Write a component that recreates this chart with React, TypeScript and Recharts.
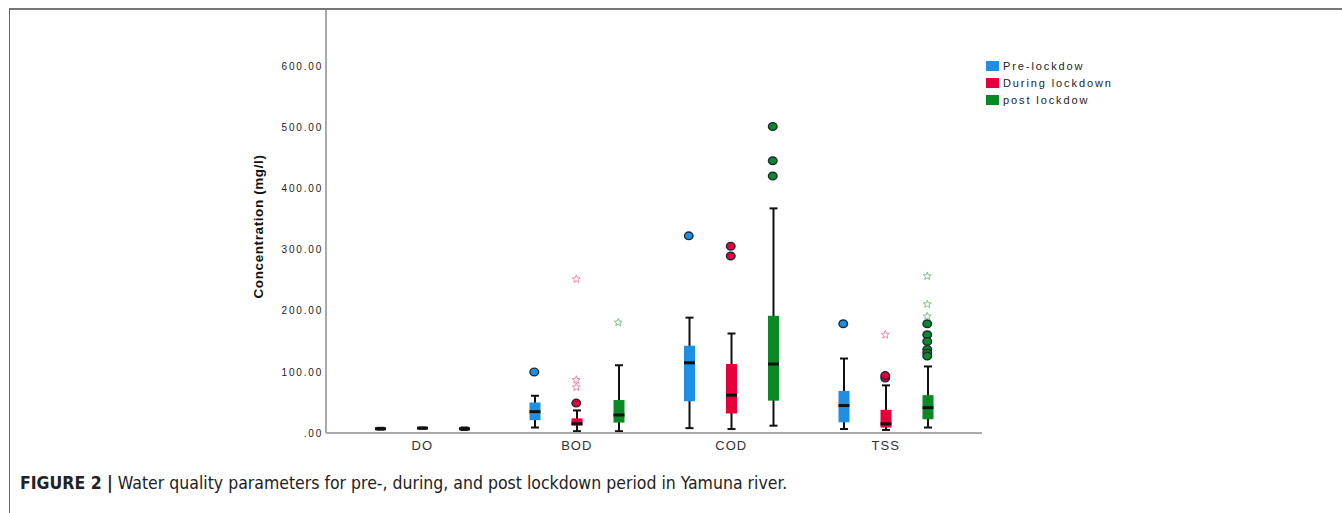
import { Bar, ComposedChart, Scatter, XAxis, YAxis } from 'recharts'

const categories = ['DO', 'BOD', 'COD', 'TSS']

// five-number summaries per category: [min, q1, median, q3, max]
const preLockdown = [
  [5.5, 6.5, 7, 7.5, 8.5],
  [9, 21, 35, 50, 61],
  [8, 52, 115, 143, 189],
  [6.5, 17.5, 45, 69, 122],
]
const duringLockdown = [
  [7, 7.5, 8, 8.5, 9],
  [3, 12.5, 15, 24, 37],
  [6.5, 32, 62, 113, 163],
  [5, 9, 15, 38, 78],
]
const postLockdown = [
  [5, 6, 7, 8, 9],
  [3, 17, 29.5, 54, 111],
  [12, 53, 113, 192, 368],
  [9, 22.5, 41.5, 62, 109],
]

// outliers (circles) and extreme values (stars)
const preOutliers: [string, number][] = [['BOD', 100], ['COD', 323], ['TSS', 179]]
const preExtremes: [string, number][] = []
const duringOutliers: [string, number][] = [['BOD', 49], ['COD', 306], ['COD', 290], ['TSS', 90], ['TSS', 94]]
const duringExtremes: [string, number][] = [['BOD', 252], ['BOD', 87], ['BOD', 75], ['TSS', 161]]
const postOutliers: [string, number][] = [
  ['COD', 502], ['COD', 446], ['COD', 421],
  ['TSS', 179], ['TSS', 161], ['TSS', 150], ['TSS', 137], ['TSS', 131], ['TSS', 126],
]
const postExtremes: [string, number][] = [['BOD', 181], ['TSS', 257], ['TSS', 211], ['TSS', 191]]

const yTicks = [0, 100, 200, 300, 400, 500, 600]

const series = [
  { key: 'pre', name: 'Pre-lockdow', color: '#1f8fe3', light: '#7ab8ec', stats: preLockdown, outliers: preOutliers, extremes: preExtremes },
  { key: 'during', name: 'During lockdown', color: '#e6003a', light: '#f07a98', stats: duringLockdown, outliers: duringOutliers, extremes: duringExtremes },
  { key: 'post', name: 'post lockdow', color: '#0a8a24', light: '#72bb80', stats: postLockdown, outliers: postOutliers, extremes: postExtremes },
]

const rows = categories.map((category, i) => {
  const row: Record<string, any> = { category }
  series.forEach((s) => {
    const [min, q1, med, q3, max] = s.stats[i]
    row[s.key + 'Whisker'] = [min, max]
    row[s.key + 'Box'] = [q1, q3]
    row[s.key + 'Median'] = [med, med]
  })
  return row
})

const toPoints = (list: [string, number][]) =>
  list.map(([c, v]) => ({ x: categories.indexOf(c) + 0.5, y: v }))

const BAR_SIZE = 11
const BAR_GAP = 31
const SLOT = BAR_SIZE + BAR_GAP
const INK = '#111'

function span(y: number, height: number) {
  return [Math.min(y, y + height), Math.max(y, y + height)]
}

function Whisker(props: any) {
  const { x, y, width, height } = props
  const [top, bottom] = span(y, height)
  const cx = x + width / 2
  return (
    <g>
      <line x1={cx} x2={cx} y1={top} y2={bottom} stroke={INK} strokeWidth={2} />
      <line x1={cx - 4} x2={cx + 4} y1={top} y2={top} stroke={INK} strokeWidth={2} />
      <line x1={cx - 4} x2={cx + 4} y1={bottom} y2={bottom} stroke={INK} strokeWidth={2} />
    </g>
  )
}

const boxShape = (color: string) => (props: any) => {
  const { x, y, width, height } = props
  const [top, bottom] = span(y, height)
  return <rect x={x} y={top} width={width} height={bottom - top} fill={color} />
}

function Median(props: any) {
  const { x, y, width } = props
  return <line x1={x} x2={x + width} y1={y} y2={y} stroke={INK} strokeWidth={3} />
}

const circleShape = (color: string, shift: number) => (props: any) => (
  <ellipse cx={props.cx + shift} cy={props.cy} rx={4.3} ry={3.8} fill={color} stroke="#1c2a3a" strokeWidth={1.4} />
)

const starShape = (color: string, shift: number) => (props: any) => {
  const cx = props.cx + shift
  const cy = props.cy
  const pts = Array.from({ length: 10 }, (_, k) => {
    const r = k % 2 === 0 ? 4.2 : 1.8
    const a = -Math.PI / 2 + (k * Math.PI) / 5
    return `${cx + r * Math.cos(a)},${cy + r * Math.sin(a)}`
  }).join(' ')
  return <polygon points={pts} fill="none" stroke={color} strokeWidth={0.9} />
}

const tickFont = { fontFamily: '"Liberation Sans", Arial, sans-serif' }

function YLabel(props: any) {
  const { viewBox } = props
  const x = viewBox.x + 28
  const y = viewBox.y + viewBox.height / 2 + 5
  return (
    <text
      x={x}
      y={y}
      transform={`rotate(-90, ${x}, ${y})`}
      textAnchor="middle"
      dominantBaseline="central"
      fontSize={13.5}
      fontWeight="bold"
      letterSpacing={0.6}
      fill="#111"
      style={tickFont}
    >
      Concentration (mg/l)
    </text>
  )
}

export default function App() {
  return (
    <div style={{ position: 'relative', width: 1342, height: 513, background: '#fff', overflow: 'hidden' }}>
      <style>{'body{margin:0}'}</style>
      <div
        style={{
          position: 'absolute',
          left: 9,
          top: 8,
          width: 1333,
          height: 505,
          borderTop: '2px solid #777',
          borderLeft: '1.5px solid #666',
        }}
      />
      <div style={{ position: 'absolute', left: 0, top: 0 }}>
        <ComposedChart
          width={1342}
          height={513}
          data={rows}
          barGap={BAR_GAP}
          margin={{ top: 10, right: 360, bottom: 50, left: 230 }}
        >
          <YAxis
            domain={[0, 693]}
            ticks={yTicks}
            allowDataOverflow
            width={96}
            tickLine={false}
            tickSize={3}
            tickMargin={0}
            axisLine={{ stroke: '#aaa', strokeWidth: 2 }}
            tick={{ fontSize: 10, fill: '#222', letterSpacing: 1.8, ...tickFont }}
            tickFormatter={(v: number) => (v === 0 ? '.00' : v.toFixed(2))}
            label={<YLabel />}
          />
          <XAxis
            xAxisId="box"
            dataKey="category"
            height={30}
            padding={{ left: 19, right: 19 }}
            tickLine={false}
            axisLine={{ stroke: '#aaa', strokeWidth: 2 }}
            tick={{ fontSize: 13, fill: '#333', letterSpacing: 1, ...tickFont }}
          />
          <XAxis xAxisId="whisker" dataKey="category" hide padding={{ left: 19, right: 19 }} />
          <XAxis xAxisId="median" dataKey="category" hide padding={{ left: 19, right: 19 }} />
          <XAxis xAxisId="pts" type="number" dataKey="x" domain={[0, 4]} hide padding={{ left: 19, right: 19 }} />

          {series.map((s) => (
            <Bar
              key={s.key + 'w'}
              xAxisId="whisker"
              dataKey={s.key + 'Whisker'}
              barSize={BAR_SIZE}
              shape={Whisker}
              isAnimationActive={false}
            />
          ))}
          {series.map((s) => (
            <Bar
              key={s.key + 'b'}
              xAxisId="box"
              dataKey={s.key + 'Box'}
              barSize={BAR_SIZE}
              shape={boxShape(s.color)}
              isAnimationActive={false}
            />
          ))}
          {series.map((s) => (
            <Bar
              key={s.key + 'm'}
              xAxisId="median"
              dataKey={s.key + 'Median'}
              barSize={BAR_SIZE}
              shape={Median}
              isAnimationActive={false}
            />
          ))}
          {series.map((s, i) => (
            <Scatter
              key={s.key + 'o'}
              xAxisId="pts"
              data={toPoints(s.outliers)}
              dataKey="y"
              shape={circleShape(s.color, (i - 1) * SLOT - 0.5)}
              isAnimationActive={false}
            />
          ))}
          {series.map((s, i) => (
            <Scatter
              key={s.key + 's'}
              xAxisId="pts"
              data={toPoints(s.extremes)}
              dataKey="y"
              shape={starShape(s.light, (i - 1) * SLOT - 0.5)}
              isAnimationActive={false}
            />
          ))}
        </ComposedChart>
      </div>

      <div style={{ position: 'absolute', left: 986, top: 57, ...tickFont }}>
        {series.map((s) => (
          <div key={s.key} style={{ display: 'flex', alignItems: 'center', height: 17 }}>
            <span style={{ width: 13, height: 10, background: s.color, marginRight: 4 }} />
            <span style={{ fontSize: 11, letterSpacing: 1.9, color: '#222' }}>{s.name}</span>
          </div>
        ))}
      </div>

      <div
        style={{
          position: 'absolute',
          left: 20,
          top: 473,
          fontSize: 17.5,
          color: '#222',
          whiteSpace: 'nowrap',
          fontFamily: '"Liberation Sans Narrow", "DejaVu Sans Condensed", Arial, sans-serif',
        }}
      >
        <b>FIGURE 2 |</b> Water quality parameters for pre-, during, and post lockdown period in Yamuna river.
      </div>
    </div>
  )
}
